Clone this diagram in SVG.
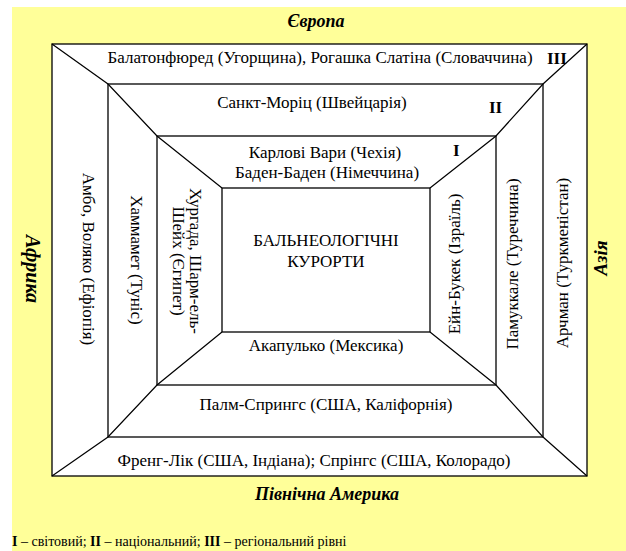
<svg xmlns="http://www.w3.org/2000/svg" width="626" height="551" viewBox="0 0 626 551" font-family="'Liberation Serif', 'Times New Roman', serif">
<style>
text{font-family:"Liberation Serif","Times New Roman",serif;fill:#000}
.t{font-size:17px}
.c{text-anchor:middle}
.r{font-weight:bold;font-size:17px}
.reg{font-weight:bold;font-style:italic;font-size:18px;text-anchor:middle}
.box{fill:#fff;stroke:#000;stroke-width:1.3}
.ln{fill:none;stroke:#000;stroke-width:1.2}
</style>
<rect x="12" y="7" width="614" height="544" fill="#ffff99"/>
<g id="frame">
<rect class="box" x="52" y="44" width="535" height="432"/>
<rect class="box" x="108" y="84" width="435" height="353"/>
<rect class="box" x="157" y="136" width="339" height="249"/>
<rect class="box" x="222" y="188" width="208" height="144"/>
</g>
<g id="connectors">
<polyline class="ln" points="52,44 108,84 157,136 222,188"/>
<polyline class="ln" points="587,44 543,84 496,136 430,188"/>
<polyline class="ln" points="52,476 108,437 157,385 222,332"/>
<polyline class="ln" points="587,476 543,437 496,385 430,332"/>
</g>
<g id="europe"><text class="reg" x="316" y="27">Європа</text></g>
<g id="africa"><text class="reg" style="font-size:20px" transform="translate(26,269) rotate(90)">Африка</text></g>
<g id="asia"><text class="reg" style="font-size:19px" transform="translate(607,258) rotate(-90)">Азія</text></g>
<g id="namerica"><text class="reg" x="327" y="500">Північна Америка</text></g>
<g id="level3-top">
<text class="t c" x="320" y="63">Балатонфюред (Угорщина), Рогашка Слатіна (Словаччина)</text>
<text class="r" x="547" y="64">III</text>
</g>
<g id="level2-top">
<text class="t c" x="312" y="108">Санкт-Моріц (Швейцарія)</text>
<text class="r" x="489" y="113">II</text>
</g>
<g id="level1-top">
<text class="t c" x="325" y="158">Карлові Вари (Чехія)</text>
<text class="t c" x="327" y="178">Баден-Баден (Німеччина)</text>
<text class="r" x="453" y="156">I</text>
</g>
<g id="center">
<text class="t c" x="326" y="246">БАЛЬНЕОЛОГІЧНІ</text>
<text class="t c" x="326" y="267">КУРОРТИ</text>
</g>
<g id="level1-bottom"><text class="t c" x="326" y="351">Акапулько (Мексика)</text></g>
<g id="level2-bottom"><text class="t c" x="326" y="410">Палм-Спрингс (США, Каліфорнія)</text></g>
<g id="level3-bottom"><text class="t c" x="314" y="466">Френг-Лік (США, Індіана); Спрінгс (США, Колорадо)</text></g>
<g id="level3-left"><text class="t c" transform="translate(83,259) rotate(90)">Амбо, Воляко (Ефіопія)</text></g>
<g id="level2-left"><text class="t c" transform="translate(131,260) rotate(90)">Хаммамет (Туніс)</text></g>
<g id="level1-left">
<text class="t c" transform="translate(190,261) rotate(90)">Хургада, Шарм-ель-</text>
<text class="t c" transform="translate(173,261) rotate(90)">Шейх (Єгипет)</text>
</g>
<g id="level1-right"><text class="t c" transform="translate(460,264) rotate(-90)">Ейн-Букек (Ізраїль)</text></g>
<g id="level2-right"><text class="t c" transform="translate(518,264) rotate(-90)">Памуккале (Туреччина)</text></g>
<g id="level3-right"><text class="t c" transform="translate(568,263) rotate(-90)">Арчман (Туркменістан)</text></g>
<g id="legend">
<text x="12" y="546" style="font-size:14px"><tspan font-weight="bold">I</tspan> – світовий; <tspan font-weight="bold">II</tspan> – національний; <tspan font-weight="bold">III</tspan> – регіональний рівні</text>
</g>
</svg>
